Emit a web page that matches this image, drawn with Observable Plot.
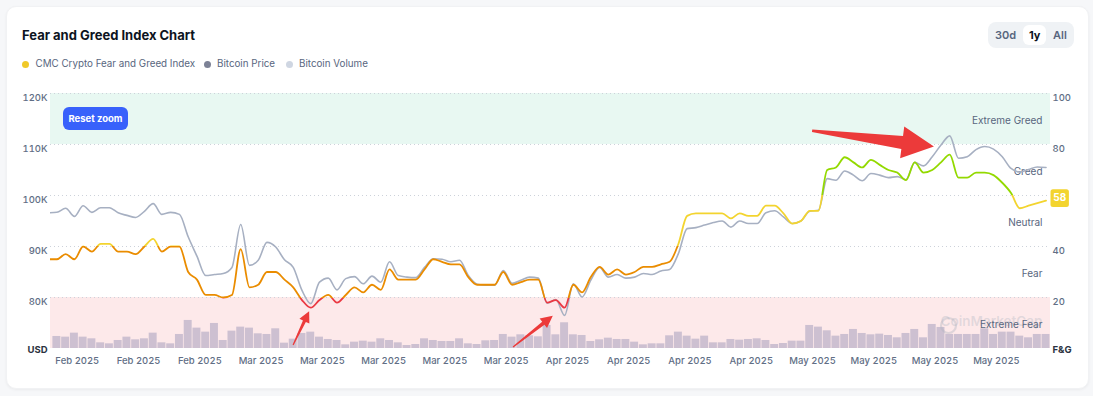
<!DOCTYPE html>
<html><head><meta charset="utf-8">
<script src="https://cdn.jsdelivr.net/npm/d3@7"></script>
<script src="https://cdn.jsdelivr.net/npm/@observablehq/plot@0.6"></script>
<style>
html,body{margin:0;padding:0;background:#f6f7f9;width:1093px;height:396px;overflow:hidden;font-family:Inter,"Noto Sans",sans-serif;}
#card{position:absolute;left:6px;top:6px;width:1083px;height:383px;background:#fff;border-radius:10px;box-shadow:0 1px 3px rgba(0,0,0,0.05);border:1px solid #f1f2f4;box-sizing:border-box;}
#chart{position:absolute;left:0;top:0;width:1093px;height:396px;}
.ov{position:absolute;z-index:2;white-space:nowrap;}
#title{left:22px;top:25.5px;font-size:13px;font-weight:700;color:#0d1421;line-height:18px;}
.leg{top:57px;font-size:9.8px;color:#58667e;line-height:14px;}
.dot{position:absolute;z-index:2;width:7px;height:7px;border-radius:50%;top:60.5px;}
#btns{left:988px;top:22px;width:86px;height:26px;background:#eff2f5;border-radius:8px;}
.btn{top:28px;font-size:11px;font-weight:600;color:#58667e;line-height:14px;}
#sel{left:1023px;top:24.5px;width:23px;height:20.5px;background:#fff;border-radius:6px;}
#reset{left:63px;top:107px;width:65px;height:23px;background:#3861fb;border-radius:6px;color:#fff;font-size:9.5px;font-weight:700;line-height:23px;text-align:center;}
</style></head><body>
<div id="card"></div>
<div id="chart"></div>
<div class="ov" id="title">Fear and Greed Index Chart</div>
<div class="dot" style="left:22px;background:#f0c929"></div>
<div class="ov leg" style="left:35.5px">CMC Crypto Fear and Greed Index</div>
<div class="dot" style="left:203.5px;background:#7d8296"></div>
<div class="ov leg" style="left:217px">Bitcoin Price</div>
<div class="dot" style="left:285.5px;background:#cfd6e2"></div>
<div class="ov leg" style="left:299px">Bitcoin Volume</div>
<div class="ov" id="btns"></div>
<div class="ov" id="sel"></div>
<div class="ov btn" style="left:995px">30d</div>
<div class="ov btn" style="left:1029px;color:#0d1421;font-weight:700">1y</div>
<div class="ov btn" style="left:1053px">All</div>
<div class="ov" id="reset">Reset zoom</div>
<script>
// ---------- data ----------
const firstDate = "2025-02-08";
const btcPrice = [
 96600,96700,97500,95900,98000,96700,97600,97600,96600,96100,
 95700,96900,98400,96300,96700,96300,91900,88100,84300,84500,
 84700,85900,94300,86300,87300,90800,89900,87400,85900,81400,
 78800,83000,83800,81500,83700,84100,82700,84200,83000,87000,
 84300,84000,83900,85900,87600,87500,87000,87300,84300,82600,
 82400,82400,85300,82800,83400,84000,83800,78900,79600,76500,
 82700,80100,83400,85900,84000,84500,83800,84000,84700,84500,
 85200,85500,88600,93500,93700,94200,94700,95000,93800,95000,
 94500,94500,96600,97000,95800,94500,95000,96900,97100,103300,
 103000,104800,104000,102900,104300,104000,103500,103700,103100,106500,
 105800,107600,109900,111700,107300,107600,109000,109600,109100,107600,
 105300,104600,105100,105600,105500
];
const fearGreed = [
 35,35,37,35,40,38,41,41,38,38,
 37,40,43,38,40,40,30,27,21,21,
 20,21,39,24,25,30,30,27,24,19,
 16,19,21,18,21,24,22,25,23,31,
 27,27,27,31,35,34,33,33,28,25,
 25,25,30,25,26,27,27,18,19,16,
 25,22,28,32,29,31,29,30,32,32,
 33,34,41,52,53,53,53,53,51,53,
 52,52,56,56,53,49,50,54,54,70,
 71,75,73,71,74,72,70,69,66,73,
 69,70,73,76,67,67,69,69,68,65,
 61,55,56,57,58
];
// daily volume, billions USD
const btcVolume = [
 null,36,34,46,34,29,17,14,24,34,
 26,29,46,17,14,42,84,61,49,75,
 24,52,64,61,44,42,59,16,28,45,
 49,34,27,24,11,19,22,19,29,24,
 17,9,12,29,24,21,21,29,14,12,
 23,24,42,34,41,38,35,69,41,77,
 41,39,21,26,31,27,27,19,11,14,
 14,38,49,37,28,37,17,17,27,25,
 27,29,24,12,15,22,22,69,64,53,
 37,42,57,45,41,43,39,32,45,57,
 32,72,63,42,42,42,42,59,42,49,
 49,37,32,42,42
];
const tickDates = ["2025-02-11","2025-02-18","2025-02-25","2025-03-04","2025-03-11","2025-03-18","2025-03-25","2025-04-01","2025-04-08","2025-04-15","2025-04-22","2025-04-29","2025-05-06","2025-05-13","2025-05-20","2025-05-27"];
const tickLabels = ["Feb 2025","Feb 2025","Feb 2025","Mar 2025","Mar 2025","Mar 2025","Mar 2025","Mar 2025","Apr 2025","Apr 2025","Apr 2025","Apr 2025","May 2025","May 2025","May 2025","May 2025"];
const usdTicks = [80000,90000,100000,110000,120000];
const usdTickLabels = ["80K","90K","100K","110K","120K"];
const fgTicks = [20,40,60,80,100];
const bandNames = ["Extreme Fear","Fear","Neutral","Greed","Extreme Greed"];
const bandLow = [0,20,40,60,80];
const bandHigh = [20,40,60,80,100];
// annotation arrows: tail and tip in chart coordinates
const arrowTail = [["2025-03-08T01:00Z",70600],["2025-04-02T04:00Z",70200],["2025-05-06T08:00Z",112600]];
const arrowTip = [["2025-03-09T21:00Z",77200],["2025-04-06T17:00Z",76300],["2025-05-20T06:00Z",109500]];

// ---------- styles ----------
const zoneColors = ["#ea3943","#ea8c00","#f3d42f","#93d900","#16c784"];
const arrowStyle = [{s0:0.6,s1:1.6,L:11,H:5.5},{s0:0.6,s1:1.8,L:12,H:6},{s0:1.2,s1:6.5,L:32,H:16}];

const fgToUsd = d3.scaleLinear([0,100],[70000,120000]);
const volToUsd = d3.scaleLinear([0,100],[70000,76550]);
const start = new Date(firstDate + "T00:00Z");
const rows = btcPrice.map((p,i)=>({date:d3.utcDay.offset(start,i), price:p, fg:fearGreed[i], vol:btcVolume[i]}));
const bands = bandNames.map((n,i)=>({name:n, lo:bandLow[i], hi:bandHigh[i]}));
const ticks = tickDates.map(s=>new Date(s+"T08:00Z"));
const tickLabelOf = new Map(ticks.map((t,i)=>[+t, tickLabels[i]]));
const lastFg = fearGreed[fearGreed.length-1];
// the current-value badge covers the right-axis label next to it
const visibleFgTicks = fgTicks.filter(v=>Math.abs(v-lastFg)>4);
const SENTINEL = "#f3d42e";

const badge = {draw(ctx){const w=9.2,h=8.9,r=2.5;ctx.moveTo(-w+r,-h);ctx.lineTo(w-r,-h);ctx.arcTo(w,-h,w,-h+r,r);ctx.lineTo(w,h-r);ctx.arcTo(w,h,w-r,h,r);ctx.lineTo(-w+r,h);ctx.arcTo(-w,h,-w,h-r,r);ctx.lineTo(-w,-h+r);ctx.arcTo(-w,-h,-w+r,-h,r);ctx.closePath();}};

const plot = Plot.plot({
  width:1093, height:396,
  marginLeft:50, marginRight:43, marginTop:93, marginBottom:48,
  x:{type:"utc", domain:[new Date("2025-02-08T06:30Z"), new Date("2025-06-02T12:15Z")]},
  y:{domain:[70000,120000]},
  style:{fontFamily:"Inter, sans-serif", fontSize:"9.5px", color:"#616e85", background:"transparent", overflow:"visible"},
  marks:[
    Plot.rect(bands.filter(b=>b.hi===100), {y1:d=>fgToUsd(d.lo), y2:d=>fgToUsd(d.hi), fill:"#e8f8f2"}),
    Plot.rect(bands.filter(b=>b.lo===0), {y1:d=>fgToUsd(d.lo), y2:d=>fgToUsd(d.hi), fill:"#fde9ea"}),
    Plot.ruleY(usdTicks, {stroke:"#cdd2da", strokeDasharray:"1,3"}),
    Plot.rect(rows.filter(d=>d.vol!=null), {x1:d=>d3.utcHour.offset(d.date,-12), x2:d=>d3.utcHour.offset(d.date,12), y1:70000, y2:d=>volToUsd(d.vol), fill:"#cdc0d1", insetLeft:0.4, insetRight:0.4, clip:true}),
    Plot.text(["CoinMarketCap"], {frameAnchor:"bottom-right", dx:-8, dy:-23, textAnchor:"end", fill:"#aeb5c1", fillOpacity:0.35, fontSize:13.5, fontWeight:600}),
    Plot.dot([0], {frameAnchor:"bottom-right", dx:-102, dy:-23, r:7.5, stroke:"#aeb5c1", strokeOpacity:0.4, strokeWidth:2.2, fill:"none"}),
    Plot.text(bands, {y:d=>fgToUsd((d.lo+d.hi)/2), text:"name", frameAnchor:"right", textAnchor:"end", dx:-8, dy:1.5, fill:"#58667e", fontSize:10}),
    Plot.line(rows, {x:"date", y:"price", stroke:"#a7b0c2", strokeWidth:1.6, curve:"monotone-x", clip:true}),
    Plot.line(rows, {x:"date", y:d=>fgToUsd(d.fg), stroke:SENTINEL, strokeWidth:1.8, curve:"monotone-x", clip:true}),
    Plot.axisY(usdTicks, {anchor:"left", tickSize:0, tickPadding:3, tickFormat:d=>usdTickLabels[usdTicks.indexOf(d)], dy:4.5, fontWeight:500, label:null}),
    Plot.axisY(visibleFgTicks.map(v=>fgToUsd(v)), {anchor:"right", tickSize:0, tickPadding:2, tickFormat:d=>String(Math.round(fgToUsd.invert(d))), dy:4.5, fontWeight:500, label:null}),
    Plot.text(["USD"], {frameAnchor:"bottom-left", dx:-3, dy:4, textAnchor:"end", fontWeight:700, fill:"#2b3240"}),
    Plot.text(["F&G"], {frameAnchor:"bottom-right", dx:2, dy:4, textAnchor:"start", fontWeight:700, fill:"#2b3240"}),
    Plot.axisX(ticks, {anchor:"bottom", tickSize:0, tickPadding:9, tickFormat:d=>tickLabelOf.get(+d), fontWeight:500, label:null}),
    Plot.dot([lastFg], {y:d=>fgToUsd(d), frameAnchor:"right", dx:9.2, dy:-2.5, symbol:badge, r:5, fill:"#f3d42f"}),
    Plot.text([lastFg], {y:d=>fgToUsd(d), frameAnchor:"right", dx:9.2, dy:-2.5, textAnchor:"middle", text:d=>String(Math.round(d)), fill:"#ffffff", fontWeight:700, fontSize:10})
  ]
});
document.getElementById("chart").appendChild(plot);

// zone gradient for the Fear & Greed line, positioned with the plot's y scale
const svgEl = plot.tagName.toLowerCase()==="svg" ? plot : plot.querySelector("svg");
const svg = d3.select(svgEl);
const ys = plot.scale("y"), xs = plot.scale("x");
const defs = svg.insert("defs", ":first-child");
const grad = defs.append("linearGradient").attr("id","fgGrad").attr("gradientUnits","userSpaceOnUse")
  .attr("x1",0).attr("x2",0).attr("y1",ys.apply(fgToUsd(0))).attr("y2",ys.apply(fgToUsd(100)));
zoneColors.forEach((c,i)=>{
  grad.append("stop").attr("offset",i/5).attr("stop-color",c);
  grad.append("stop").attr("offset",(i+1)/5).attr("stop-color",c);
});
svg.selectAll(`[stroke="${SENTINEL}"]`).attr("stroke","url(#fgGrad)");

// annotation arrows through the plot's scales
const ag = svg.append("g");
arrowTail.forEach((t,i)=>{
  const T=[xs.apply(new Date(t[0])), ys.apply(t[1])];
  const P=[xs.apply(new Date(arrowTip[i][0])), ys.apply(arrowTip[i][1])];
  const st=arrowStyle[i];
  const dx=P[0]-T[0], dy=P[1]-T[1], len=Math.hypot(dx,dy);
  const u=[dx/len,dy/len], n=[-u[1],u[0]];
  const B=[P[0]-u[0]*st.L, P[1]-u[1]*st.L];
  const pt=(o,k)=>[o[0]+n[0]*k, o[1]+n[1]*k];
  const pts=[pt(T,st.s0),pt(B,st.s1),pt(B,st.H),P,pt(B,-st.H),pt(B,-st.s1),pt(T,-st.s0)];
  ag.append("polygon").attr("points",pts.map(p=>p.join(",")).join(" ")).attr("fill","#ec3a3a");
});
</script>
</body></html>
